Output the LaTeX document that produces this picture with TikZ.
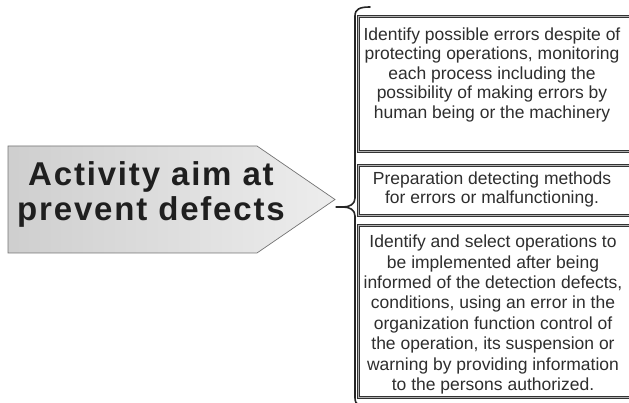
\documentclass[tikz,border=0pt]{standalone}
\usepackage{fontspec}
\setmainfont{Liberation Sans}
\newfontfamily\headfont[LetterSpace=5.5]{Liberation Sans}
\begin{document}
\begin{tikzpicture}[x=1pt,y=1pt,
  frame/.style={draw=black!80, double=black!30, double distance=0.7pt,
    line width=0.9pt, fill=white, inner sep=0pt, anchor=north west},
  body/.style={font=\fontsize{17.5}{19.5}\selectfont, text=black!82,
    align=center, inner sep=0pt},
  brace/.style={draw=black!85, line width=1.6pt, line cap=round},
]
\useasboundingbox (0,0) rectangle (629,403);
\clip (0,0) rectangle (629,403);

% pointer shape with the heading
\coordinate (p1) at (8,257);
\coordinate (p2) at (257,257);
\coordinate (ptip) at (335,203.5);
\coordinate (p3) at (257,150);
\coordinate (p4) at (8,150);
\shadedraw[left color=black!19, right color=black!7, draw=black!55, line width=0.7pt]
  (p1) -- (p2) -- (ptip) -- (p3) -- (p4) -- cycle;
\node[font=\headfont\fontsize{33}{35}\selectfont\bfseries, text=black!88,
  align=center, inner sep=0pt] (aim) at (151,208.5) {Activity aim at\\prevent defects};

% the three boxes
\node[frame, minimum width=292, minimum height=135] (b1) at (358,387) {};
\node[frame, minimum width=292, minimum height=50] (b2) at (358,238) {};
\node[frame, minimum width=292, minimum height=172] (b3) at (358,178) {};

\node[body] (t1) at (492,328.4) {Identify possible errors despite of\\protecting operations, monitoring\\each process including the\\possibility of making errors by\\human being or the machinery};
\node[body, font=\fontsize{17.5}{18.5}\selectfont] (t2) at (492,213.4) {Preparation detecting methods\\for errors or malfunctioning.};
\node[body, font=\fontsize{17.5}{20.4}\selectfont] (t3) at (493,88.4) {Identify and select operations to\\be implemented after being\\informed of the detection defects,\\conditions, using an error in the\\organization function control of\\the operation, its suspension or\\warning by providing information\\to the persons authorized.};

% brace gathering the boxes
\coordinate (btip) at (343,196);
\coordinate (lead) at (336,196);
\draw[brace] (370,396) .. controls (360,396) and (355,394) .. (355,387)
  -- (355,205) .. controls (355,199) and (350,196) .. (btip)
  .. controls (350,196) and (355,193) .. (355,187)
  -- (355,5) .. controls (355,-2) and (360,-4) .. (370,-4);
\draw[brace, line width=1.3pt] (lead) -- (btip);
\end{tikzpicture}
\end{document}
